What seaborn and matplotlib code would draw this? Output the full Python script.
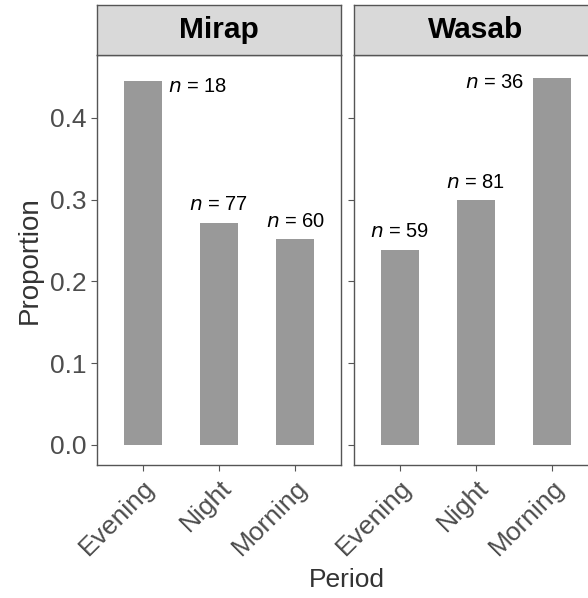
import pandas as pd
import matplotlib.pyplot as plt
import seaborn as sns

sites = ['Mirap', 'Wasab']
periods = ['Evening', 'Night', 'Morning']
mirap_prop = [0.445, 0.272, 0.252]
wasab_prop = [0.239, 0.300, 0.449]
mirap_n = [18, 77, 60]
wasab_n = [59, 81, 36]

df = pd.DataFrame({
    'site': ['Mirap'] * 3 + ['Wasab'] * 3,
    'period': periods * 2,
    'proportion': mirap_prop + wasab_prop,
    'n': mirap_n + wasab_n,
})

sns.set_theme(style="white")
plt.rcParams['font.family'] = ['Liberation Sans', 'DejaVu Sans']

fig = plt.figure(figsize=(5.88, 5.98), dpi=100)

W, H = 588, 598
panel_w = 244
panel_top, panel_bot = 55, 465
lefts = [97, 354]
grey_txt = '#4D4D4D'

for i, site in enumerate(sites):
    x0 = lefts[i]
    ax = fig.add_axes([x0 / W, (H - panel_bot) / H, panel_w / W, (panel_bot - panel_top) / H])
    sub = df[df['site'] == site]
    sns.barplot(data=sub, x='period', y='proportion', order=periods, color='#999999',
                saturation=1, width=0.5, ax=ax, edgecolor='none')
    ax.set_xlim(-0.6, 2.6)
    ax.set_ylim(-0.0245, 0.477)
    ax.set_xlabel('')
    ax.set_ylabel('')
    for s in ax.spines.values():
        s.set_color('#555555')
        s.set_linewidth(1.0)
    ax.tick_params(axis='both', which='both', length=4, width=0.8, color='#555555',
                   labelsize=19, labelcolor=grey_txt, left=True, bottom=True)
    ax.set_yticks([0.0, 0.1, 0.2, 0.3, 0.4])
    if i == 0:
        ax.set_yticklabels(['0.0', '0.1', '0.2', '0.3', '0.4'])
    else:
        ax.set_yticklabels([])
    ax.set_xticks(range(3))
    ax.set_xticklabels(periods, rotation=45, ha='right', rotation_mode='anchor')

    # etichette n
    for j, row in enumerate(sub.itertuples()):
        lab = f'$n$ = {row.n}'
        v = row.proportion
        if site == 'Mirap' and j == 0:
            ax.text(j + 0.33, v - 0.006, lab, ha='left', va='center', fontsize=14.5, color='black')
        elif site == 'Wasab' and j == 2:
            ax.text(j - 0.37, v - 0.006, lab, ha='right', va='center', fontsize=14.5, color='black')
        else:
            ax.text(j, v + 0.01, lab, ha='center', va='bottom', fontsize=14.5, color='black')

    # striscia del facet
    sax = fig.add_axes([x0 / W, (H - panel_top) / H, panel_w / W, 50 / H])
    sax.set_facecolor('#D9D9D9')
    sax.set_xticks([])
    sax.set_yticks([])
    for s in sax.spines.values():
        s.set_color('#555555')
        s.set_linewidth(1.0)
    sax.text(0.5, 0.5, site, ha='center', va='center', fontsize=21.5,
             fontweight='bold', color='black', transform=sax.transAxes)

fig.text(30 / W, 1 - 260 / H, 'Proportion', rotation=90, ha='center', va='center',
         fontsize=20, color='#333333')
fig.text(347 / W, 1 - 580 / H, 'Period', ha='center', va='center', fontsize=19, color='#333333')

plt.savefig('out.png', dpi=100)
